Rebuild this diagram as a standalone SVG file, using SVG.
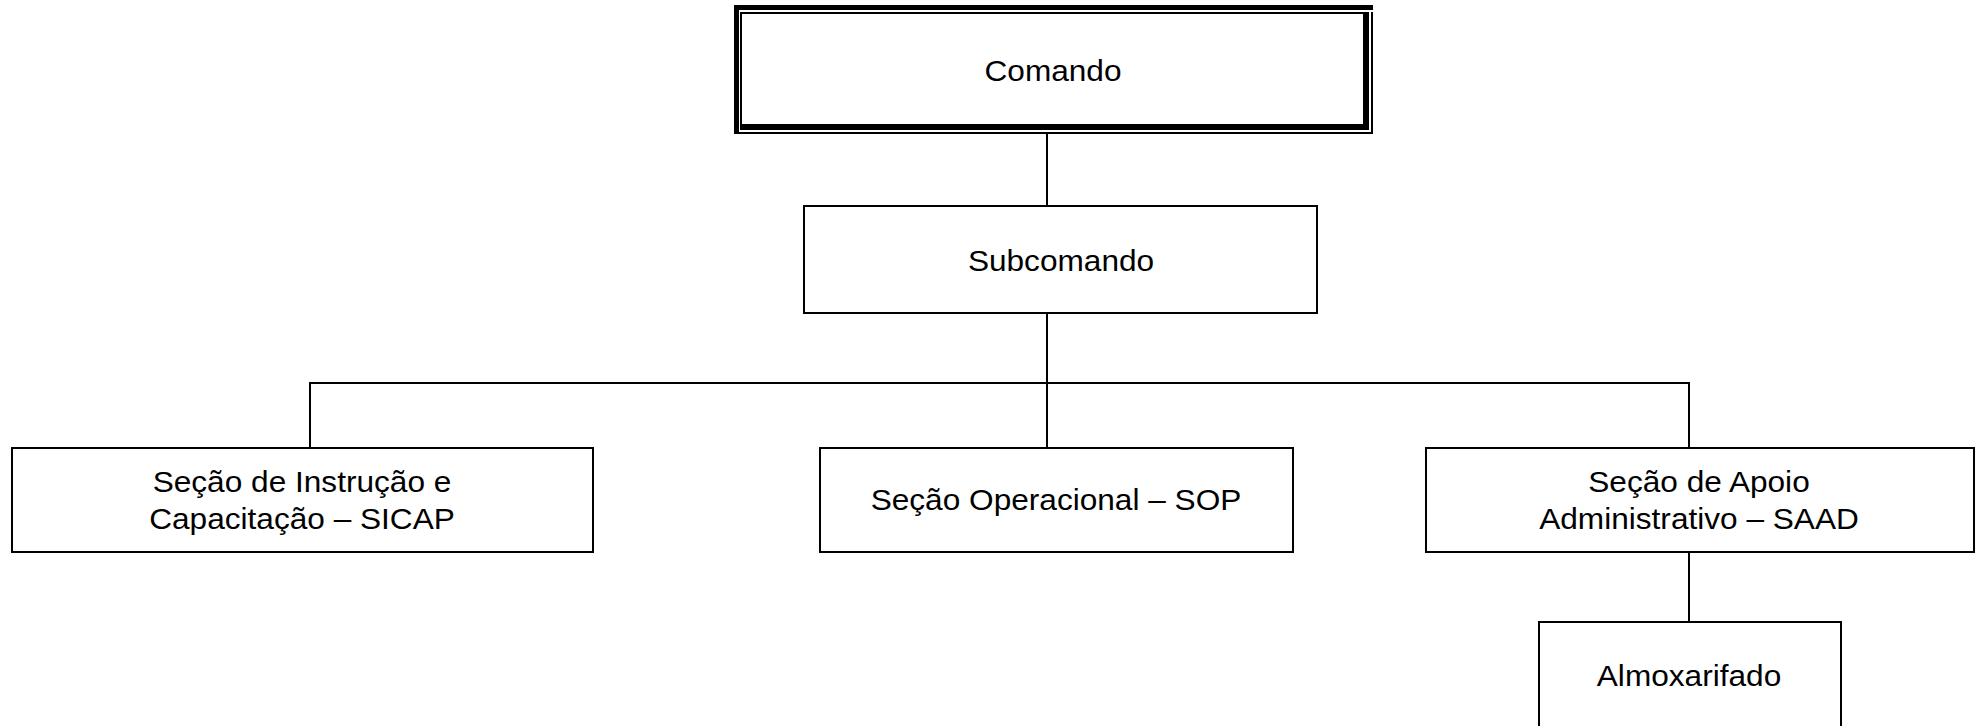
<svg xmlns="http://www.w3.org/2000/svg" width="1984" height="726" viewBox="0 0 1984 726">
<style>
.box{fill:#fff;stroke:#000;stroke-width:2}
.ln{stroke:#000;stroke-width:2;fill:none}
.t{font-family:"Liberation Sans",Arial,sans-serif;font-size:29px;fill:#000;text-anchor:middle}
.k{fill:#000}
</style>
<rect width="1984" height="726" fill="#fff"/>
<g id="connectors">
<line class="ln" x1="1047" y1="134" x2="1047" y2="205"/>
<line class="ln" x1="1047" y1="313" x2="1047" y2="447"/>
<polyline class="ln" points="310,447 310,383 1689,383 1689,447"/>
<line class="ln" x1="1689" y1="552" x2="1689" y2="621"/>
</g>
<g id="comando">
<rect x="734" y="5" width="639" height="129" fill="#fff"/>
<rect class="k" x="734" y="5" width="639" height="5"/>
<rect class="k" x="734" y="5" width="5" height="129"/>
<rect class="k" x="740" y="12" width="623" height="2"/>
<rect class="k" x="740" y="12" width="2" height="118"/>
<rect class="k" x="1363" y="12" width="6" height="118"/>
<rect class="k" x="740" y="124" width="629" height="6"/>
<rect class="k" x="1371" y="12" width="2" height="122"/>
<rect class="k" x="734" y="132" width="639" height="2"/>
<text class="t" transform="translate(1053,81) scale(1.09,1)">Comando</text>
</g>
<g id="subcomando">
<rect class="box" x="804" y="206" width="513" height="107"/>
<text class="t" transform="translate(1061,271) scale(1.09,1)">Subcomando</text>
</g>
<g id="sicap">
<rect class="box" x="12" y="448" width="581" height="104"/>
<text class="t" transform="translate(302,492) scale(1.09,1)">Seção de Instrução e</text>
<text class="t" transform="translate(302,529) scale(1.09,1)">Capacitação – SICAP</text>
</g>
<g id="sop">
<rect class="box" x="820" y="448" width="473" height="104"/>
<text class="t" transform="translate(1056,510) scale(1.09,1)">Seção Operacional – SOP</text>
</g>
<g id="saad">
<rect class="box" x="1426" y="448" width="548" height="104"/>
<text class="t" transform="translate(1699,492) scale(1.09,1)">Seção de Apoio</text>
<text class="t" transform="translate(1699,529) scale(1.09,1)">Administrativo – SAAD</text>
</g>
<g id="almoxarifado">
<rect class="box" x="1539" y="622" width="302" height="120"/>
<text class="t" transform="translate(1689,686) scale(1.09,1)">Almoxarifado</text>
</g>
</svg>
